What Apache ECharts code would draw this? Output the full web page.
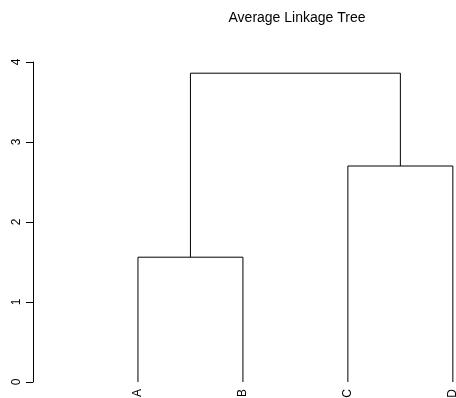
<!DOCTYPE html>
<html>
<head>
<meta charset="utf-8">
<script src="https://cdn.jsdelivr.net/npm/echarts@6/dist/echarts.min.js"></script>
<style>html,body{margin:0;padding:0;background:#fff}#c{width:456px;height:398px}</style>
</head>
<body>
<div id="c"></div>
<script>
// Leaves in plotting order and their positions
const leafLabels = ['A', 'B', 'C', 'D'];
const leafPositions = [1, 2, 3, 4];
// Merges: pairs of node indices (0-3 leaves, 4+ merged clusters) and merge heights
const mergeLeft = [0, 2, 4];
const mergeRight = [1, 3, 5];
const mergeHeights = [1.56, 2.70, 3.86];
const yTicks = [0, 1, 2, 3, 4];

const nodeX = leafPositions.slice();
const nodeY = leafPositions.map(() => 0);
const series = [];
for (let i = 0; i < mergeHeights.length; i++) {
  const a = mergeLeft[i], b = mergeRight[i], h = mergeHeights[i];
  series.push({
    type: 'line',
    data: [[nodeX[a], nodeY[a]], [nodeX[a], h], [nodeX[b], h], [nodeX[b], nodeY[b]]],
    symbol: 'none',
    lineStyle: { color: '#000', width: 1 },
    silent: true,
    animation: false
  });
  nodeX.push((nodeX[a] + nodeX[b]) / 2);
  nodeY.push(h);
}

const chart = echarts.init(document.getElementById('c'), null, { renderer: 'canvas' });
chart.setOption({
  animation: false,
  backgroundColor: '#fff',
  grid: { left: 33, top: 62, width: 423, height: 320, containLabel: false, outerBoundsMode: 'none' },
  xAxis: {
    type: 'value', min: 0, max: 4.03, interval: 1,
    axisLine: { show: false }, axisTick: { show: false }, splitLine: { show: false },
    axisLabel: {
      rotate: 90, margin: 7, color: '#000', fontSize: 12, fontFamily: 'Liberation Sans',
      showMaxLabel: false, hideOverlap: false,
      formatter: v => { const i = leafPositions.indexOf(v); return i >= 0 ? leafLabels[i] : ''; }
    }
  },
  yAxis: {
    type: 'value', min: yTicks[0], max: yTicks[yTicks.length - 1], interval: 1,
    axisLine: { show: true, lineStyle: { color: '#000', width: 1 } },
    axisTick: { show: true, length: 7, lineStyle: { color: '#000' } },
    splitLine: { show: false },
    axisLabel: { rotate: 90, margin: 10, color: '#000', fontSize: 12, fontFamily: 'Liberation Sans' }
  },
  graphic: [{
    type: 'text', x: 297, y: 18,
    style: { text: 'Average Linkage Tree', textAlign: 'center', textVerticalAlign: 'middle',
      fill: '#000', font: '14px "Liberation Sans"' }
  }],
  series: series
});
</script>
</body>
</html>
